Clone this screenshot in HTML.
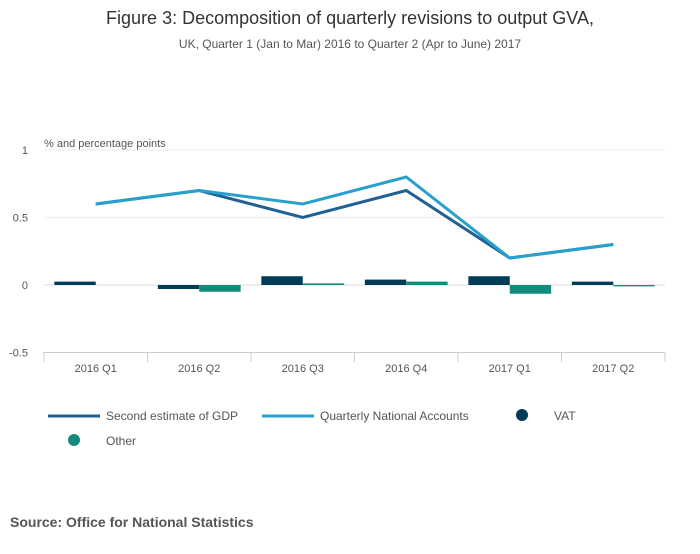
<!DOCTYPE html>
<html><head><meta charset="utf-8"><style>
body{margin:0;background:#fff;font-family:"Liberation Sans",sans-serif;}
svg text{font-family:"Liberation Sans",sans-serif;}
</style></head><body>
<svg width="700" height="549" id="c">
<text x="350" y="24" text-anchor="middle" font-size="18" fill="#333">Figure 3: Decomposition of quarterly revisions to output GVA,</text>
<text x="350" y="48" text-anchor="middle" font-size="12" fill="#555">UK, Quarter 1 (Jan to Mar) 2016 to Quarter 2 (Apr to June) 2017</text>
<text x="44" y="147" font-size="11" fill="#555">% and percentage points</text>
<g id="grid"></g><g id="bars"></g><g id="lines"></g><g id="xaxis"></g>
<g>
<line x1="48" y1="416" x2="100" y2="416" stroke="#206095" stroke-width="3"/>
<text x="106" y="420" font-size="12" fill="#555">Second estimate of GDP</text>
<line x1="262" y1="416" x2="314" y2="416" stroke="#27a0cc" stroke-width="3"/>
<text x="320" y="420" font-size="12" fill="#555">Quarterly National Accounts</text>
<circle cx="522" cy="415" r="6" fill="#003c57"/>
<text x="554" y="420" font-size="12" fill="#555">VAT</text>
<circle cx="74" cy="440" r="6" fill="#118c7b"/>
<text x="106" y="445" font-size="12" fill="#555">Other</text>
</g>
<text x="10" y="527" font-size="14" font-weight="bold" fill="#555">Source: Office for National Statistics</text>
</svg>
<script>
const categories=["2016 Q1","2016 Q2","2016 Q3","2016 Q4","2017 Q1","2017 Q2"];
const gdp=[0.6,0.7,0.5,0.7,0.2,0.3];
const qna=[0.6,0.7,0.6,0.8,0.2,0.3];
const vat=[0.025,-0.03,0.065,0.04,0.065,0.025];
const other=[0,-0.05,0.012,0.025,-0.065,-0.01];
const yTicks=[1,0.5,0,-0.5];
const yTickLabels=["1","0.5","0","-0.5"];
const NS="http://www.w3.org/2000/svg";
const x0=44,x1=665,cw=(x1-x0)/categories.length;
const y=v=>285-v*135;
const xc=i=>x0+cw*(i+0.5);
function mk(t,a,p){const e=document.createElementNS(NS,t);for(const k in a)e.setAttribute(k,a[k]);p.appendChild(e);return e;}
const g=document.getElementById('grid');
yTicks.forEach((t,i)=>{const l=mk('line',{x1:x0,x2:x1,y1:y(t),y2:y(t),stroke:t===0?'#ddd':'#eee'},g);


const tx=mk('text',{x:28,y:y(t)+4,'font-size':11,fill:'#555','text-anchor':'end'},g);tx.textContent=yTickLabels[i];

});
const b=document.getElementById('bars');
categories.forEach((c,i)=>{
const bw=cw*0.4;
[[vat[i],'#003c57',xc(i)-bw],[other[i],'#118c7b',xc(i)]].forEach(([v,col,bx],j)=>{
const r=mk('rect',{x:bx,width:bw,y:Math.min(y(v),y(0)),height:Math.max(Math.abs(y(v)-y(0)),0.01),fill:col},b);

});});
const L=document.getElementById('lines');
[[gdp,'#206095','line-gdp'],[qna,'#27a0cc','line-qna']].forEach(([d,col,n])=>{
const p=mk('polyline',{points:d.map((v,i)=>xc(i)+','+y(v)).join(' '),fill:'none',stroke:col,'stroke-width':3},L);

});
const X=document.getElementById('xaxis');
const ax=mk('line',{x1:x0,x2:x1,y1:352.5,y2:352.5,stroke:'#ccc'},X);


for(let i=0;i<=categories.length;i++){mk('line',{x1:x0+cw*i,x2:x0+cw*i,y1:352,y2:362,stroke:'#ccc'},X);}
categories.forEach((c,i)=>{const t=mk('text',{x:xc(i),y:372,'font-size':11,fill:'#555','text-anchor':'middle'},X);t.textContent=c;

});
</script>
</body></html>
